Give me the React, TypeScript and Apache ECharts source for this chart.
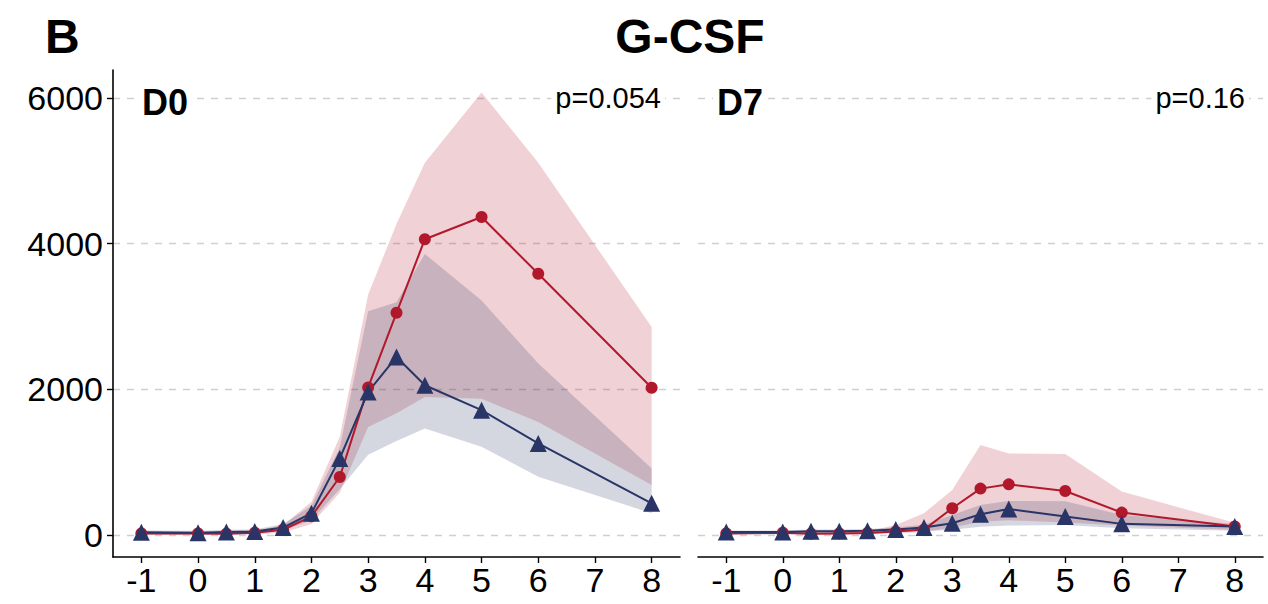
import React, { useEffect, useRef } from "react";
import * as echarts from "echarts";

const xs = [-1, 0, 0.5, 1, 1.5, 2, 2.5, 3, 3.5, 4, 5, 6, 8];
const xTicks = [-1, 0, 1, 2, 3, 4, 5, 6, 7, 8];
const yTicks = [0, 2000, 4000, 6000];

// D0 panel
const d0RedMean = [20, 20, 15, 30, 70, 255, 795, 2025, 3050, 4060, 4365, 3585, 2020];
const d0RedLo = [0, 0, 0, 5, 30, 150, 580, 1480, 1670, 1895, 1870, 1550, 685];
const d0RedHi = [40, 40, 35, 60, 130, 456, 1347, 3300, 4270, 5110, 6075, 5110, 2855];
const d0NavyMean = [35, 30, 40, 45, 100, 297, 1050, 1963, 2443, 2055, 1712, 1256, 434];
const d0NavyLo = [10, 10, 15, 20, 60, 200, 630, 1100, 1290, 1461, 1210, 799, 297];
const d0NavyHi = [60, 55, 70, 75, 150, 400, 1200, 3070, 3196, 3858, 3219, 2352, 913];

// D7 panel
const d7RedMean = [20, 30, 15, 20, 25, 45, 72, 365, 635, 694, 603, 306, 114];
const d7RedLo = [0, 5, 0, 5, 5, 20, 40, 100, 180, 200, 170, 130, 70];
const d7RedHi = [40, 55, 35, 40, 50, 137, 297, 616, 1233, 1119, 1110, 594, 165];
const d7NavyMean = [40, 40, 50, 50, 55, 75, 100, 160, 283, 356, 251, 151, 114];
const d7NavyLo = [20, 20, 25, 25, 30, 40, 50, 70, 110, 128, 137, 91, 55];
const d7NavyHi = [60, 60, 75, 75, 80, 100, 140, 274, 411, 466, 460, 274, 150];

const RED = "#B2182B";
const NAVY = "#293566";
const RED_FILL = "rgba(178,24,43,0.2)";
const NAVY_FILL = "rgba(40,53,100,0.2)";
const FONT = "Liberation Sans";

function band(idx: number, lo: number[], hi: number[], fill: string) {
  return {
    type: "custom",
    xAxisIndex: idx,
    yAxisIndex: idx,
    silent: true,
    encode: { x: 0, y: [1, 2] },
    data: xs.map((x, i) => [x, lo[i], hi[i]]),
    renderItem: (params: any, api: any) => {
      if (params.dataIndex !== 0) return null;
      const pts: number[][] = [];
      for (let i = 0; i < xs.length; i++) pts.push(api.coord([xs[i], hi[i]]));
      for (let i = xs.length - 1; i >= 0; i--) pts.push(api.coord([xs[i], lo[i]]));
      return { type: "polygon", shape: { points: pts }, style: { fill, stroke: "none" } };
    },
    z: 1,
  };
}

function line(idx: number, vals: number[], color: string, symbol: string, size: number) {
  return {
    type: "line",
    xAxisIndex: idx,
    yAxisIndex: idx,
    data: xs.map((x, i) => [x, vals[i]]),
    symbol,
    symbolSize: size,
    showSymbol: true,
    lineStyle: { color, width: 2 },
    itemStyle: { color, borderWidth: 0 },
    z: 3,
  };
}

export default function App() {
  const ref = useRef<HTMLDivElement>(null);
  useEffect(() => {
    const chart = echarts.init(ref.current!, null, { renderer: "svg" });
    const xAxisBase = (gridIndex: number) => ({
      type: "value",
      gridIndex,
      min: -1.5,
      max: 8.5,
      axisLine: { show: true, onZero: false, lineStyle: { color: "#000", width: 1.6 } },
      axisTick: { show: true, length: 6, customValues: xTicks, lineStyle: { color: "#000", width: 1.4 } },
      axisLabel: { show: true, customValues: xTicks, color: "#000", fontSize: 34, fontFamily: FONT, margin: 6, formatter: (v: number) => String(v) },
      splitLine: { show: false },
    });
    const yAxisBase = (gridIndex: number, showAxis: boolean) => ({
      type: "value",
      gridIndex,
      min: -304,
      max: 6384,
      axisLine: { show: showAxis, onZero: false, lineStyle: { color: "#000", width: 1.6 } },
      axisTick: { show: showAxis, length: 6, customValues: yTicks, lineStyle: { color: "#000", width: 1.4 } },
      axisLabel: { show: showAxis, customValues: yTicks, color: "#000", fontSize: 34, fontFamily: FONT, margin: 10, formatter: (v: number) => String(v) },
      splitLine: { show: true, lineStyle: { color: "#d0d0d0", width: 1.4, type: [7, 7] } },
    });
    const labelBox = { backgroundColor: "#fff", padding: [0, 4, 0, 4] };
    chart.setOption({
      animation: false,
      backgroundColor: "#fff",
      grid: [
        { left: 113, top: 70, width: 567, height: 487 },
        { left: 698, top: 70, width: 565, height: 487 },
      ],
      xAxis: [xAxisBase(0), xAxisBase(1)],
      yAxis: [yAxisBase(0, true), yAxisBase(1, false)],
      graphic: [
        { type: "text", left: 45, top: 12, style: { text: "B", font: `bold 48px ${FONT}`, fill: "#000" } },
        { type: "text", x: 690, y: 36, style: { text: "G-CSF", font: `bold 48px ${FONT}`, fill: "#000", textAlign: "center", textVerticalAlign: "middle" } },
        { type: "text", x: 138, y: 102, z: 10, style: { text: "D0", font: `bold 36px ${FONT}`, fill: "#000", textVerticalAlign: "middle", ...labelBox } },
        { type: "text", x: 713, y: 102, z: 10, style: { text: "D7", font: `bold 36px ${FONT}`, fill: "#000", textVerticalAlign: "middle", ...labelBox } },
        { type: "text", x: 665, y: 98, z: 10, style: { text: "p=0.054", font: `29px ${FONT}`, fill: "#000", textAlign: "right", textVerticalAlign: "middle", ...labelBox } },
        { type: "text", x: 1249, y: 98, z: 10, style: { text: "p=0.16", font: `29px ${FONT}`, fill: "#000", textAlign: "right", textVerticalAlign: "middle", ...labelBox } },
      ],
      series: [
        band(0, d0RedLo, d0RedHi, RED_FILL),
        band(0, d0NavyLo, d0NavyHi, NAVY_FILL),
        line(0, d0RedMean, RED, "circle", 12),
        line(0, d0NavyMean, NAVY, "triangle", 17),
        band(1, d7RedLo, d7RedHi, RED_FILL),
        band(1, d7NavyLo, d7NavyHi, NAVY_FILL),
        line(1, d7RedMean, RED, "circle", 12),
        line(1, d7NavyMean, NAVY, "triangle", 17),
      ],
    });
    return () => chart.dispose();
  }, []);
  return <div ref={ref} style={{ position: "absolute", left: 0, top: 0, width: 1268, height: 604 }} />;
}
